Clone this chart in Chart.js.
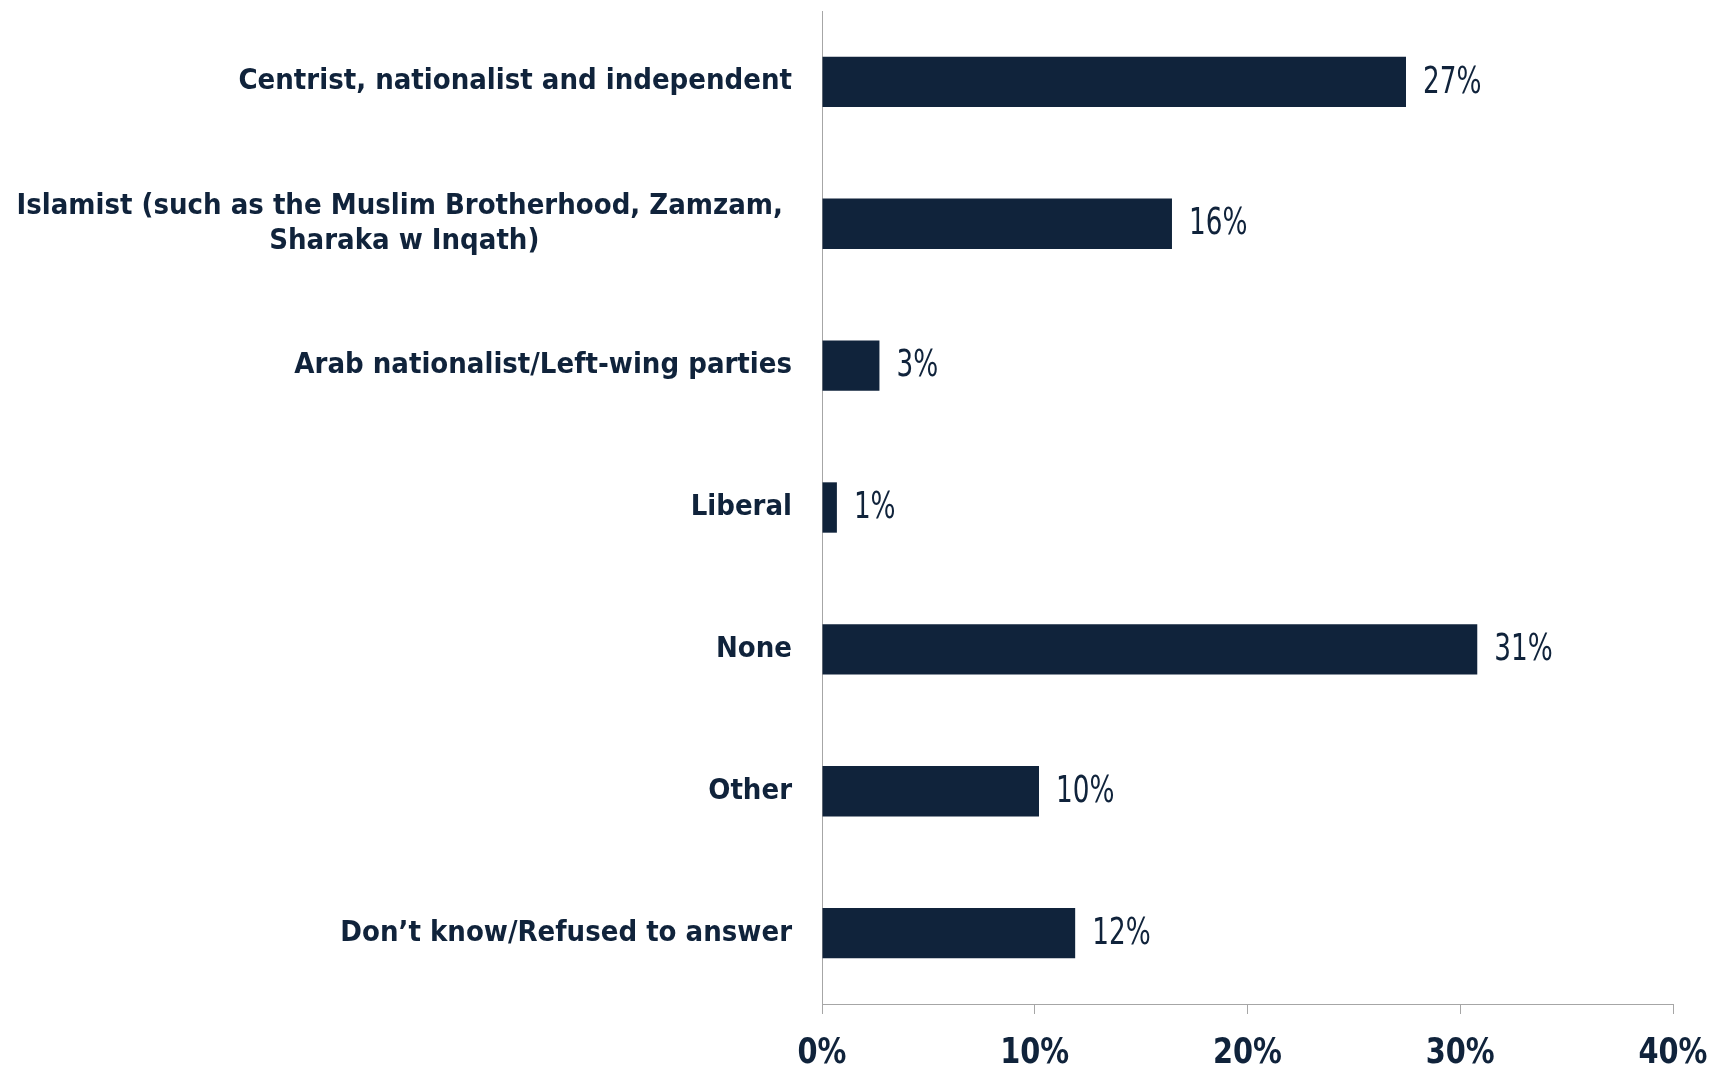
<!DOCTYPE html>
<html>
<head>
<meta charset="utf-8">
<script src="https://cdn.jsdelivr.net/npm/chart.js@4/dist/chart.umd.min.js"></script>
<style>
  body { margin: 0; background: #fff; }
  #wrap { width: 1727px; height: 1066px; }
</style>
</head>
<body>
<div id="wrap"><canvas id="chart" width="1727" height="1066"></canvas></div>
<script>
const categories = [
    ["Centrist, nationalist and independent"],
    ["Islamist (such as the Muslim Brotherhood, Zamzam, ", "Sharaka w Inqath)"],
    ["Arab nationalist/Left-wing parties"],
    ["Liberal"],
    ["None"],
    ["Other"],
    ["Don\u2019t know/Refused to answer"]
];
const values = [27.45, 16.45, 2.7, 0.7, 30.8, 10.2, 11.9];
const xTicks = [0, 10, 20, 30, 40];

const navy = '#10233b';
const axisGrey = '#a6a6a6';
const catFont = 'bold 29px "DejaVu Sans Condensed", "DejaVu Sans", sans-serif';
const valFont = '37px "DejaVu Sans Condensed", "DejaVu Sans", sans-serif';
const tickFont = 'bold 36px "DejaVu Sans Condensed", "DejaVu Sans", sans-serif';

// the original font is narrower than anything installed, so squeeze it a bit
function squeezed(ctx, text, x, y, sx, align) {
    ctx.save();
    ctx.translate(x, y);
    ctx.scale(sx, 1);
    ctx.textAlign = align;
    ctx.fillText(text, 0, 0);
    ctx.restore();
}

// category labels: right aligned block, lines centered inside it
const catLabels = {
    id: 'catLabels',
    afterDraw(chart) {
        const ctx = chart.ctx;
        const y = chart.scales.y;
        const right = chart.chartArea.left - 30;
        const lh = 35;
        ctx.save();
        ctx.font = catFont;
        ctx.fillStyle = navy;
        ctx.textBaseline = 'middle';
        ctx.textAlign = 'center';
        categories.forEach((lines, i) => {
            const cy = y.getPixelForTick(i);
            const maxW = Math.max(...lines.map(l => ctx.measureText(l).width));
            const cx = right - maxW / 2;
            lines.forEach((l, j) => {
                ctx.fillText(l, cx, cy + (j - (lines.length - 1) / 2) * lh);
            });
        });
        ctx.restore();
    }
};

const xLabels = {
    id: 'xLabels',
    afterDraw(chart) {
        const ctx = chart.ctx;
        const x = chart.scales.x;
        ctx.save();
        ctx.font = tickFont;
        ctx.fillStyle = navy;
        ctx.textBaseline = 'alphabetic';
        xTicks.forEach(v => {
            squeezed(ctx, v + '%', x.getPixelForValue(v), x.top + 59, 0.89, 'center');
        });
        ctx.restore();
    }
};

const valueLabels = {
    id: 'valueLabels',
    afterDatasetsDraw(chart) {
        const ctx = chart.ctx;
        const meta = chart.getDatasetMeta(0);
        ctx.save();
        ctx.font = valFont;
        ctx.fillStyle = navy;
        ctx.textBaseline = 'middle';
        meta.data.forEach((bar, i) => {
            squeezed(ctx, Math.round(values[i]) + '%', bar.x + 17, bar.y + 1, 0.79, 'left');
        });
        ctx.restore();
    }
};

new Chart(document.getElementById('chart'), {
    type: 'bar',
    data: {
        labels: categories,
        datasets: [{
            data: values,
            backgroundColor: navy,
            categoryPercentage: 1,
            barPercentage: 0.355
        }]
    },
    options: {
        indexAxis: 'y',
        responsive: false,
        animation: false,
        layout: { padding: { top: 11, right: 54, left: 0, bottom: 0 } },
        plugins: {
            legend: { display: false },
            tooltip: { enabled: false }
        },
        scales: {
            x: {
                min: 0,
                max: 40,
                afterBuildTicks: s => { s.ticks = xTicks.map(v => ({ value: v })); },
                afterFit: s => { s.height = 62; },
                grid: { drawOnChartArea: false, drawTicks: true, tickLength: 10, color: axisGrey },
                border: { color: axisGrey, width: 1 },
                ticks: { display: false }
            },
            y: {
                afterFit: s => { s.width = 822; },
                grid: { display: false },
                border: { color: axisGrey, width: 1 },
                ticks: { display: false }
            }
        }
    },
    plugins: [catLabels, valueLabels, xLabels]
});
</script>
</body>
</html>
